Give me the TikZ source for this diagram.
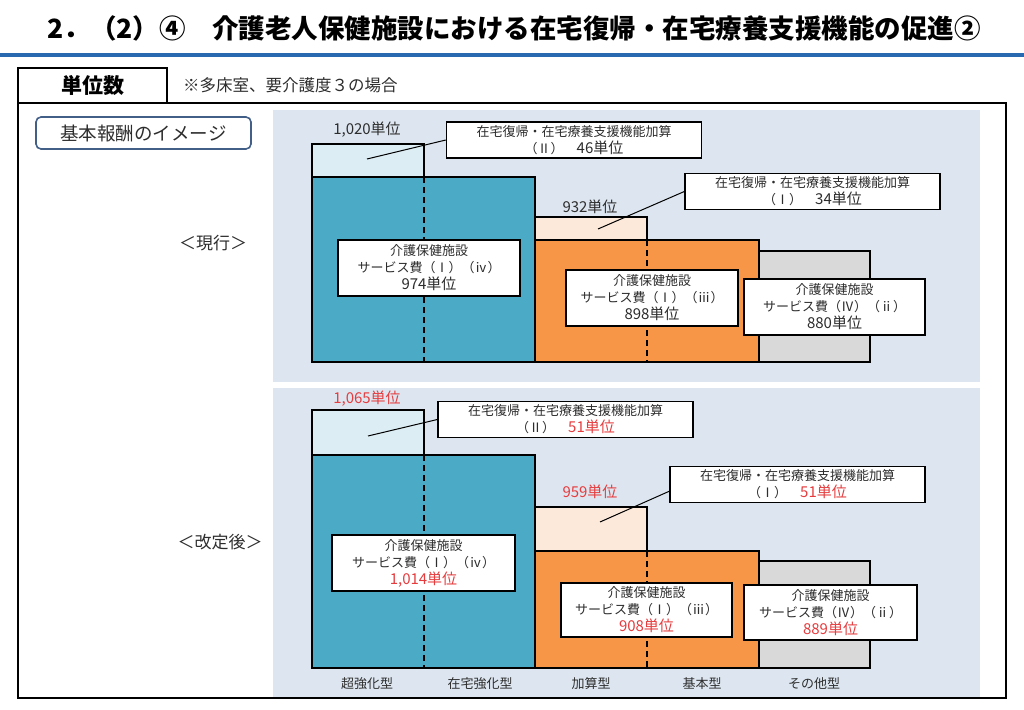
\documentclass[tikz,border=0pt]{standalone}
\usepackage{fontspec}
\setmainfont{Noto Sans CJK JP}
\usetikzlibrary{positioning}

\definecolor{barblue}{RGB}{75,170,198}
\definecolor{barorange}{RGB}{247,150,70}
\definecolor{bargray}{RGB}{217,217,217}
\definecolor{addblue}{RGB}{220,237,243}
\definecolor{addpeach}{RGB}{253,233,217}
\definecolor{panelbg}{RGB}{221,230,240}
\definecolor{newred}{RGB}{230,60,62}
\definecolor{titleblue}{RGB}{40,105,175}
\definecolor{txtgray}{RGB}{45,45,45}
\definecolor{tagframe}{RGB}{65,95,135}

\newcommand{\bigval}[1]{{\fontsize{15}{17}\selectfont #1}}

\begin{document}
\begin{tikzpicture}[x=1pt,y=-1pt,
  bar/.style={draw=black,line width=1.8pt},
  sep/.style={line width=1.6pt,dash pattern=on 6pt off 4pt},
  lab/.style={draw=black,line width=1.4pt,fill=white,align=center,text=txtgray,
    font=\fontsize{13}{17}\selectfont,inner sep=0pt},
  callout/.style={lab,minimum width=255pt,minimum height=36pt},
  val/.style={text=txtgray,font=\fontsize{15}{17}\selectfont},
  cat/.style={text=txtgray,font=\fontsize{13}{15}\selectfont},
  era/.style={text=txtgray,font=\fontsize{17}{19}\selectfont}]
\useasboundingbox (0,0) rectangle (1024,709);

% title
\node (title) at (514,28) {\fontsize{26.5}{30}\selectfont\bfseries 2．（2）④　介護老人保健施設における在宅復帰・在宅療養支援機能の促進②};
\draw[titleblue,line width=4pt] (0,55) -- (1024,55);

% frame
\draw[line width=1.3pt] (18,103) rectangle (1006,698);
\node[draw,line width=1.3pt,minimum width=149pt,minimum height=35pt,inner sep=0pt,
  font=\fontsize{21}{24}\selectfont\bfseries] (hdr) at (92.5,85.5) {単位数};
\node[right=12pt of hdr,text=txtgray,font=\fontsize{16.5}{18}\selectfont] (note) {※多床室、要介護度３の場合};
\node[draw=tagframe,line width=1.6pt,rounded corners=5pt,minimum width=215pt,minimum height=32pt,
  inner sep=0pt,text=txtgray,font=\fontsize{18.5}{20}\selectfont] (img) at (143.5,133) {基本報酬のイメージ};

% panels
\fill[panelbg] (273,110) rectangle (980,382);
\fill[panelbg] (273,388) rectangle (980,697);
\node[era] (cur) at (213,243) {＜現行＞};
\node[era] (rev) at (220,542) {＜改定後＞};

% current
\draw[bar,fill=addblue] (312,144) rectangle (424,177);
\draw[bar,fill=barblue] (312,177) rectangle (535,362);
\draw[bar,fill=addpeach] (535,217) rectangle (647,240);
\draw[bar,fill=barorange] (535,240) rectangle (759,362);
\draw[bar,fill=bargray] (759,251) rectangle (870,362);
\draw[sep] (424,177) -- (424,362);
\draw[sep] (647,240) -- (647,362);
\node[val] (v1) at (367,130) {1,020単位};
\node[val] (v2) at (590,207) {932単位};
\node[lab,minimum width=182pt,minimum height=56pt] (b1) at (429,268) {介護保健施設\\サービス費（Ⅰ）（ⅳ）\\\bigval{974単位}};
\node[lab,minimum width=172pt,minimum height=56pt] (b2) at (652,298) {介護保健施設\\サービス費（Ⅰ）（ⅲ）\\\bigval{898単位}};
\node[lab,minimum width=181pt,minimum height=56pt] (b3) at (834.5,307) {介護保健施設\\サービス費（Ⅳ）（ⅱ）\\\bigval{880単位}};
\node[callout] (co1) at (574,140) {在宅復帰・在宅療養支援機能加算\\（Ⅱ）　\bigval{46単位}};
\node[callout] (co2) at (812.5,191.5) {在宅復帰・在宅療養支援機能加算\\（Ⅰ）　\bigval{34単位}};
\coordinate (p1) at (367,159);
\coordinate (p2) at (598,229);
\draw[line width=1pt] (p1) -- (co1.west);
\draw[line width=1pt] (p2) -- (co2.west);

% revised
\draw[bar,fill=addblue] (312,410) rectangle (424,455);
\draw[bar,fill=barblue] (312,455) rectangle (535,668);
\draw[bar,fill=addpeach] (535,507) rectangle (647,551);
\draw[bar,fill=barorange] (535,551) rectangle (759,668);
\draw[bar,fill=bargray] (759,561) rectangle (870,668);
\draw[sep] (424,455) -- (424,668);
\draw[sep] (647,551) -- (647,668);
\node[val,text=newred] (v3) at (367,399) {1,065単位};
\node[val,text=newred] (v4) at (590,492) {959単位};
\node[lab,minimum width=183pt,minimum height=56pt] (b4) at (423.5,563) {介護保健施設\\サービス費（Ⅰ）（ⅳ）\\\bigval{\color{newred}1,014単位}};
\node[lab,minimum width=171pt,minimum height=54pt] (b5) at (646.5,610) {介護保健施設\\サービス費（Ⅰ）（ⅲ）\\\bigval{\color{newred}908単位}};
\node[lab,minimum width=173pt,minimum height=55pt] (b6) at (830.5,612.5) {介護保健施設\\サービス費（Ⅳ）（ⅱ）\\\bigval{\color{newred}889単位}};
\node[callout] (co3) at (565.5,419.5) {在宅復帰・在宅療養支援機能加算\\（Ⅱ）　\bigval{\color{newred}51単位}};
\node[callout] (co4) at (797.5,484.5) {在宅復帰・在宅療養支援機能加算\\（Ⅰ）　\bigval{\color{newred}51単位}};
\coordinate (p3) at (368,436);
\coordinate (p4) at (600,522);
\draw[line width=1pt] (p3) -- (co3.west);
\draw[line width=1pt] (p4) -- (co4.183);

% types
\node[cat] (t1) at (367,684) {超強化型};
\node[cat] (t2) at (480,684) {在宅強化型};
\node[cat] (t3) at (591,684) {加算型};
\node[cat] (t4) at (702,684) {基本型};
\node[cat] (t5) at (814,684) {その他型};
\end{tikzpicture}
\end{document}
